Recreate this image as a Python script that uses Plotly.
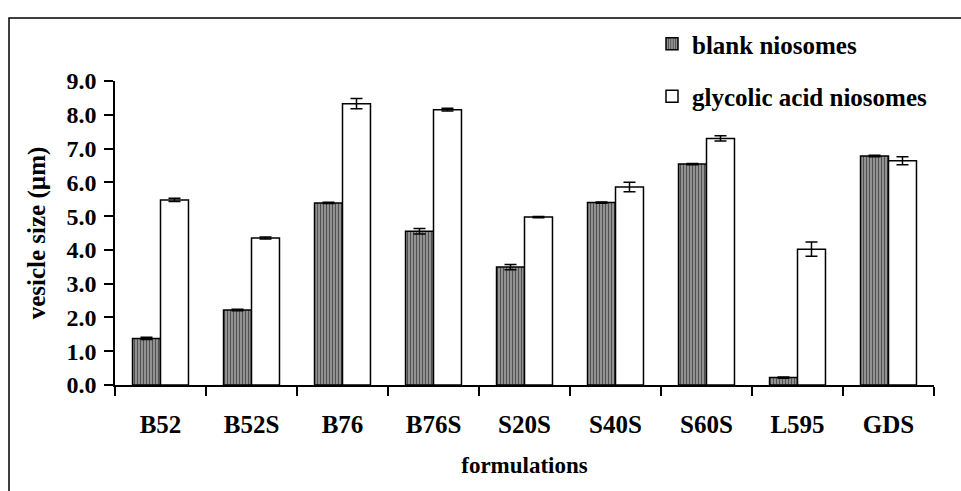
import plotly.graph_objects as go

categories = ["B52", "B52S", "B76", "B76S", "S20S", "S40S", "S60S", "L595", "GDS"]
blank = [1.38, 2.22, 5.39, 4.55, 3.49, 5.40, 6.54, 0.22, 6.78]
blank_err = [0.03, 0.02, 0.02, 0.08, 0.08, 0.02, 0.02, 0.02, 0.02]
glycolic = [5.48, 4.35, 8.33, 8.15, 4.97, 5.86, 7.30, 4.02, 6.64]
glycolic_err = [0.05, 0.03, 0.15, 0.04, 0.02, 0.14, 0.08, 0.21, 0.12]

FONT = "Liberation Serif"

fig = go.Figure()
fig.add_trace(go.Bar(
    x=categories, y=blank, name="blank niosomes", legendgroup="a",
    marker=dict(color="#9a9a9a", line=dict(color="black", width=1.5),
                pattern=dict(shape="|", size=3, solidity=0.45, fgcolor="black", bgcolor="#a0a0a0")),
    error_y=dict(type="data", array=blank_err, color="black", thickness=1.5, width=6),
))
fig.add_trace(go.Bar(
    x=categories, y=glycolic, name="glycolic acid niosomes", legendgroup="b",
    marker=dict(color="white", line=dict(color="black", width=1.5)),
    error_y=dict(type="data", array=glycolic_err, color="black", thickness=1.5, width=6),
))

W, H = 961, 491
L, R, T, B = 115, 27, 81, 106
pw, ph = W - L - R, H - T - B

def px_x(x):
    return (x - L) / pw

def px_y(y):
    return (H - B - y) / ph

fig.update_layout(
    width=W, height=H,
    margin=dict(l=L, r=R, t=T, b=B),
    paper_bgcolor="white", plot_bgcolor="white",
    barmode="group", bargap=0.385, bargroupgap=0,
    font=dict(family=FONT, size=23, color="black", weight="bold"),
    showlegend=True,
    legend=dict(x=px_x(652), y=px_y(21), xanchor="left", yanchor="top",
                font=dict(family=FONT, size=25, color="black", weight="bold"),
                tracegroupgap=17, traceorder="grouped", bgcolor="rgba(0,0,0,0)"),
    xaxis=dict(
        showline=True, linecolor="black", linewidth=1.5,
        ticks="outside", tickson="boundaries", ticklen=9, tickcolor="black", tickwidth=1.5,
        ticklabelstandoff=16,
        tickfont=dict(family=FONT, size=25, weight="bold"),
        title=dict(text="formulations", font=dict(family=FONT, size=23, weight="bold"), standoff=20),
        showgrid=False, zeroline=False,
    ),
    yaxis=dict(
        range=[0, 9], dtick=1, tickformat=".1f",
        showline=True, linecolor="black", linewidth=1.5,
        ticks="outside", ticklen=9, tickcolor="black", tickwidth=1.5,
        ticklabelstandoff=3,
        tickfont=dict(family=FONT, size=24, weight="bold"),
        showgrid=False, zeroline=False,
        title=dict(text="vesicle size (µm)", font=dict(family=FONT, size=25, weight="bold"), standoff=14),
    ),
    shapes=[dict(type="rect", xref="paper", yref="paper",
                 x0=px_x(9), x1=px_x(1000), y0=px_y(560), y1=px_y(18),
                 line=dict(color="black", width=1.5), fillcolor="rgba(0,0,0,0)", layer="below")],
)

fig.write_html("out.html")
